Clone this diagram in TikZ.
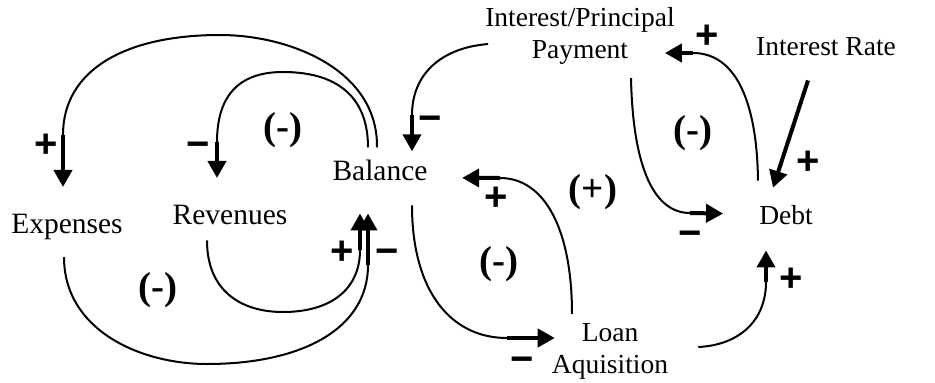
\documentclass[tikz,border=0pt]{standalone}
\usepackage{fontspec}
\setmainfont{Liberation Serif}
\newfontfamily\signfont{Liberation Sans}
\usetikzlibrary{arrows.meta}

\tikzset{
  var/.style={inner sep=0pt, anchor=base, font=\fontsize{29.5}{32}\selectfont},
  varsm/.style={inner sep=0pt, align=center, font=\fontsize{27.5}{32}\selectfont},
  link/.style={line width=2pt},
  shaft/.style={line width=4pt, -{Triangle[length=17pt,width=18pt]}},
  sign/.style={inner sep=0pt, font=\signfont\bfseries\fontsize{40}{40}\selectfont},
  plus/.style={sign, yshift=-3pt},
  minus/.style={sign, yshift=-8pt},
  loop/.style={inner sep=0pt, font=\bfseries\fontsize{39}{39}\selectfont}
}

\begin{document}
\begin{tikzpicture}[x=1pt,y=-1pt]
\useasboundingbox (0,0) rectangle (935,383);

\node[var] (exp) at (67,233) {Expenses};
\node[var] (rev) at (230,224) {Revenues};
\node[var] (bal) at (380,180) {Balance};
\node[varsm] (pay) at (580,35.5) {Interest/Principal\\Payment};
\node[varsm, anchor=base] (rate) at (826,55) {Interest Rate};
\node[varsm, anchor=base] (debt) at (786,224) {Debt};
\node[varsm] (loan) at (610,351) {Loan\\Aquisition};

% balance loops on the left
\draw[link] ([xshift=-3pt,yshift=12pt]bal.north) .. controls (378,70) and (290,35) .. (220,35)
  .. controls (125,35) and (63,70) .. (63,135) coordinate (e1);
\draw[shaft] (e1) -- ([xshift=-4pt,yshift=26.5pt]exp.north);
\draw[link] ([xshift=-12pt,yshift=12pt]bal.north) .. controls (368,95) and (335,72) .. (283,72)
  .. controls (235,72) and (217,100) .. (217,142) coordinate (e2);
\draw[shaft] (e2) -- ([xshift=-13pt,yshift=26.5pt]rev.north);
\draw[link] ([xshift=-23pt,yshift=-16pt]rev.south) .. controls (207,290) and (240,312) .. (283,312)
  .. controls (330,312) and (360,290) .. (360,250) coordinate (e3);
\draw[shaft] (e3) -- ([xshift=-20pt,yshift=-33pt]bal.south);
\draw[link] ([xshift=-3pt,yshift=-17.6pt]exp.south) .. controls (64,330) and (140,364) .. (207,364)
  .. controls (300,364) and (368,330) .. (368,265) coordinate (e4);
\draw[shaft] (e4) -- ([xshift=-12pt,yshift=-33pt]bal.south);

% loan and debt
\draw[link] ([xshift=3pt,yshift=-8.5pt]pay.west) .. controls (440,48) and (412,75) .. (412,115) coordinate (e5);
\draw[shaft] (e5) -- ([xshift=32pt,yshift=8pt]bal.north);
\draw[link] ([xshift=32pt,yshift=-25pt]bal.south) .. controls (412,290) and (450,338) .. (507,338) coordinate (e6);
\draw[shaft] (e6) -- ([xshift=3pt,yshift=13pt]loan.west);
\draw[link] ([xshift=-38pt,yshift=9pt]loan.north) .. controls (572,230) and (545,178) .. (500,178) coordinate (e7);
\draw[shaft] (e7) -- ([xshift=34.5pt,yshift=-8pt]bal.east);
\draw[link] ([xshift=30pt,yshift=4pt]loan.east) .. controls (740,345) and (766,320) .. (766,282) coordinate (e8);
\draw[shaft] (e8) -- ([xshift=-20pt,yshift=-26pt]debt.south);
\draw[link] ([xshift=-28pt,yshift=24pt]debt.north) .. controls (757,100) and (735,53) .. (693,53) coordinate (e9);
\draw[shaft] (e9) -- ([xshift=-10pt,yshift=-17.5pt]pay.east);
\draw[link] ([xshift=51pt,yshift=-14pt]pay.south) .. controls (633,170) and (655,213) .. (690,213) coordinate (e10);
\draw[shaft] (e10) -- ([xshift=-36pt,yshift=1pt]debt.west);
\draw[shaft] ([xshift=-18pt,yshift=-25pt]rate.south) -- ([xshift=-13pt,yshift=17pt]debt.north);

% polarities
\node[plus] (s1) at (46,143) {+};
\node[minus] (s2) at (198,142) {−};
\node[plus] (s3) at (342,250) {+};
\node[minus] (s4) at (387,249) {−};
\node[minus] (s5) at (430,116) {−};
\node[minus] (s6) at (522,357) {−};
\node[plus] (s7) at (496,196) {+};
\node[plus] (s8) at (791,277) {+};
\node[plus] (s9) at (707,34) {+};
\node[minus] (s10) at (690,231) {−};
\node[plus] (s11) at (808,160) {+};

% loop types
\node[loop] (l1) at (283,130) {(-)};
\node[loop] (l2) at (158,290) {(-)};
\node[loop] (l3) at (593,192) {(+)};
\node[loop] (l4) at (499,264) {(-)};
\node[loop] (l5) at (693,133) {(-)};
\end{tikzpicture}
\end{document}
